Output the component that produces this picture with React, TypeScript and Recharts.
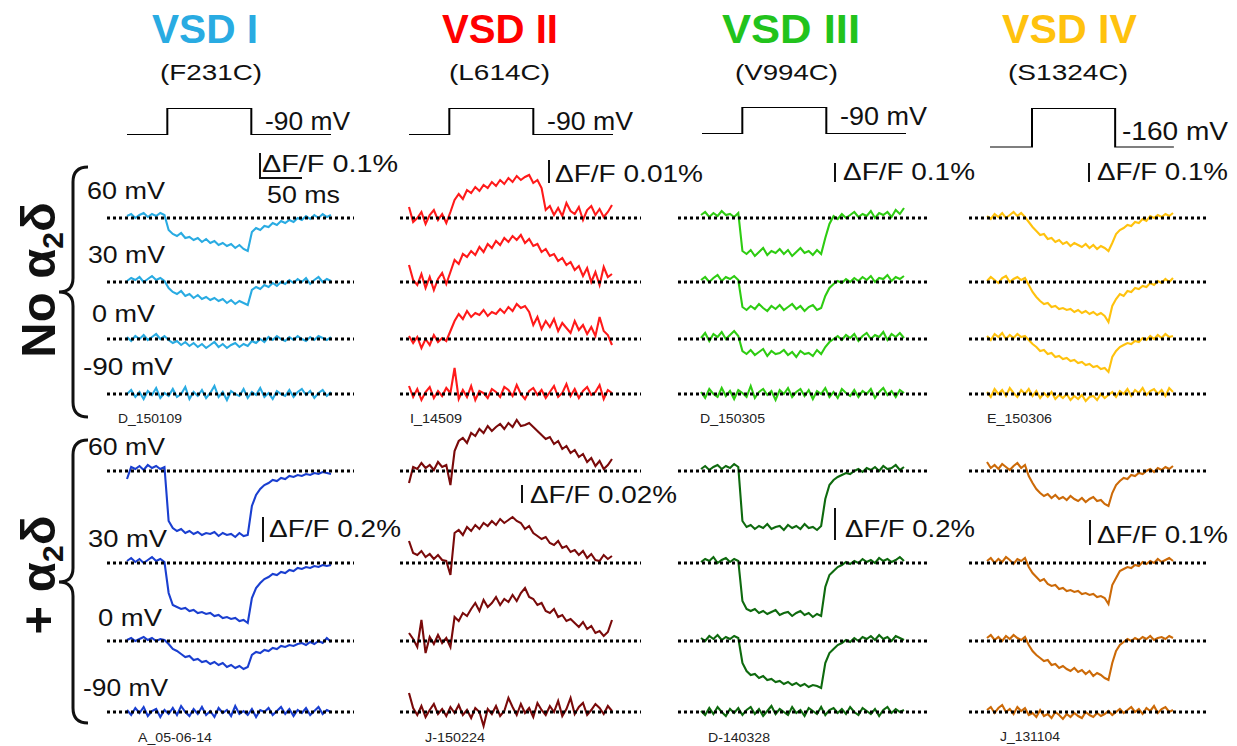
import React from 'react';
import { LineChart, Line, XAxis, YAxis, ReferenceLine } from 'recharts';

// ---- labels ----
const vsdNames = ['VSD I', 'VSD II', 'VSD III', 'VSD IV'];
const mutations = ['(F231C)', '(L614C)', '(V994C)', '(S1324C)'];
const testPotentials = ['60 mV', '30 mV', '0 mV', '-90 mV'];
const holdingLabels = ['-90 mV', '-90 mV', '-90 mV', '-160 mV'];
const scaleNoA2d = ['ΔF/F 0.1%', 'ΔF/F 0.01%', 'ΔF/F 0.1%', 'ΔF/F 0.1%'];
const scaleA2d = ['ΔF/F 0.2%', 'ΔF/F 0.02%', 'ΔF/F 0.2%', 'ΔF/F 0.1%'];
const cellsNoA2d = ['D_150109', 'I_14509', 'D_150305', 'E_150306'];
const cellsA2d = ['A_05-06-14', 'J-150224', 'D-140328', 'J_131104'];

// ---- voltage protocol (ms, mV) ----
const holdingPotentials = [-90, -90, -90, -160];
const stepPotential = 60;
const protocolTimes = [
  [0, 48, 148, 243],
  [0, 48, 148, 243],
  [0, 48, 148, 243],
  [0, 50, 149, 219],
];

// ---- fluorescence traces, one row per test potential (60, 30, 0, -90 mV) ----
const vsd1Control = [
  [2, 4, 0, 3, 5, 1, 4, 2, 5, 3,
   -12, -16, -18, -15, -20, -19, -22, -20, -24, -21,
   -25, -23, -27, -25, -28, -26, -30, -27, -31, -33,
   -14, -10, -12, -8, -9, -5, -7, -3, -5, -2,
   -4, 0, -2, 2, -1, 3, 0, 4, 1, 3],
  [1, 4, 2, 5, 0, 3, 6, 2, 4, 1,
   -6, -10, -12, -9, -14, -12, -16, -13, -17, -15,
   -18, -16, -19, -17, -21, -18, -22, -19, -21, -23,
   -8, -5, -7, -3, -5, -1, -4, 0, -2, 2,
   -1, 3, 0, 4, -2, 2, 5, 0, 3, 1],
  [2, -2, 3, 0, 4, -1, 2, 5, 0, 3,
   -1, -4, -2, -6, -3, -7, -4, -8, -5, -9,
   -6, -3, -8, -5, -9, -6, -4, -8, -5, -7,
   -2, -4, 0, -3, 2, -1, 3, 0, -2, 2,
   -1, 3, 0, -2, 2, -1, 3, 1, -1, 2],
  [0, 4, -3, 2, -5, 3, -1, 6, -4, 1,
   -2, 5, -3, 0, 7, -5, 2, -2, 4, -4,
   1, 8, -3, 2, -6, 3, 0, -2, 5, -4,
   2, -1, 6, -3, 1, -5, 3, 0, -2, 4,
   -3, 2, 5, -1, 3, -4, 1, 4, -2, 2],
];
const vsd1A2d = [
  [-8, 4, 2, 5, 1, 6, 3, 5, 2, 4,
   -50, -57, -60, -58, -62, -60, -63, -61, -64, -62,
   -63, -61, -65, -62, -64, -63, -66, -62, -65, -64,
   -35, -24, -18, -14, -12, -9, -10, -7, -8, -5,
   -6, -4, -5, -3, -4, -2, -3, -1, -2, -3],
  [2, 5, 1, 4, 0, 3, 6, 2, 4, 1,
   -30, -42, -44, -46, -45, -48, -47, -50, -49, -51,
   -50, -53, -52, -55, -54, -56, -55, -58, -57, -60,
   -35, -25, -20, -16, -14, -11, -12, -9, -10, -7,
   -8, -5, -6, -4, -5, -3, -4, -2, -3, -2],
  [1, 3, 0, 2, 4, 1, 3, 0, 2, 1,
   -3, -8, -10, -13, -16, -15, -19, -18, -21, -20,
   -23, -21, -24, -22, -26, -24, -27, -25, -28, -26,
   -14, -11, -12, -9, -10, -7, -8, -5, -6, -4,
   -5, -3, -2, -4, -1, -3, 0, -2, 3, -1],
  [2, -3, 4, -1, 5, -4, 1, 3, -5, 2,
   -2, 4, -3, 6, 0, -4, 3, -2, 5, -3,
   1, -5, 4, -1, 2, -4, 6, -2, 1, -3,
   3, -5, 2, 0, 4, -3, 1, 5, -2, 3,
   -4, 2, -1, 4, -3, 1, 5, -2, 2, 0],
];
const vsd2Control = [
  [11, -4, 0, 6, -6, 3, 8, -2, 4, -5,
   6, 18, 24, 19, 28, 25, 31, 27, 33, 30,
   36, 32, 38, 34, 40, 36, 42, 38, 41, 43,
   35, 38, 30, 8, 12, 3, 10, 2, 15, 7,
   4, 11, -2, 8, 12, 3, 9, 1, 6, 13],
  [17, 2, -3, 8, -6, 5, -8, 3, 9, -2,
   10, 22, 18, 28, 25, 31, 27, 35, 30, 38,
   34, 41, 37, 44, 40, 46, 42, 47, 39, 43,
   36, 38, 30, 33, 26, 28, 21, 24, 17, 20,
   12, 16, 6, 14, 0, 10, -3, 15, 5, 8],
  [3, -4, 2, -9, 0, -6, 4, -3, 1, -2,
   8, 18, 25, 20, 28, 22, 26, 24, 29, 23,
   27, 25, 30, 26, 32, 28, 35, 31, 33, 27,
   14, 22, 10, 18, 12, 20, 8, 16, 11, 6,
   18, 9, 14, 5, 12, 3, 22, 8, 4, -6],
  [8, -3, 5, -6, 2, 7, -4, 3, -2, 6,
   1, 26, -5, 4, -3, 8, -6, 3, 1, -4,
   5, 2, -3, 7, 4, -2, 9, 0, -5, 3,
   6, -1, 4, -4, 2, 8, -3, 1, 10, -2,
   5, -4, 3, 7, -1, 2, 9, -5, 4, 1],
];
const vsd2A2d = [
  [-12, 4, 2, 8, 3, 6, 1, 9, 4, 6,
   -14, 20, 30, 33, 28, 38, 35, 42, 38, 45,
   40, 44, 47, 42, 48, 44, 51, 45, 46, 48,
   44, 40, 36, 32, 34, 27, 30, 22, 25, 18,
   21, 14, 17, 9, 13, 5, 10, 2, 6, 12],
  [22, 10, 8, 12, 6, 9, 4, 8, 3, 2,
   -12, 30, 33, 28, 36, 32, 38, 34, 40, 37,
   42, 38, 44, 40, 43, 46, 42, 40, 34, 37,
   30, 27, 24, 26, 20, 18, 22, 15, 17, 11,
   13, 8, 12, 5, 9, 3, 2, 8, 4, 7],
  [8, 2, -6, 21, -12, 4, -3, 6, -2, 3,
   -6, 24, 20, 28, 25, 32, 38, 30, 41, 34,
   38, 44, 36, 42, 39, 46, 40, 48, 53, 44,
   42, 36, 38, 30, 28, 32, 24, 26, 20, 22,
   18, 14, 19, 12, 15, 8, 10, 5, 9, 21],
  [19, 4, -3, 6, -5, 2, 8, -2, 3, -4,
   5, -1, 7, -3, 2, -6, 4, 0, -14, 3,
   -2, 6, -4, 1, 14, 5, -3, 8, -1, 4,
   -5, 9, 2, -3, 6, 0, 11, -4, 3, 14,
   -2, 5, 9, -3, 2, 8, 4, -2, 6, 1],
];
const vsd3Control = [
  [3, 6, 1, 5, 2, 7, 3, 4, 1, 5,
   -33, -36, -32, -38, -34, -30, -37, -33, -35, -31,
   -36, -32, -38, -34, -30, -35, -33, -37, -32, -36,
   -20, -6, 2, -1, 4, 0, 3, 6, 1, 4,
   2, 7, 0, 5, 3, 6, 1, 8, 4, 10],
  [2, 5, 0, 4, 7, 1, 5, 3, 6, 2,
   -25, -28, -24, -27, -22, -26, -29, -24, -27, -23,
   -28, -25, -22, -27, -24, -29, -25, -23, -28, -26,
   -14, -6, -2, 1, -1, 3, 0, 4, 1, 5,
   2, 6, 0, 4, 3, 7, 1, 5, 3, 6],
  [1, 6, -2, 5, 2, 7, 0, 4, 8, 3,
   -12, -15, -11, -16, -13, -10, -17, -12, -15, -14,
   -11, -16, -13, -18, -12, -15, -14, -17, -11, -15,
   -8, -3, 0, 3, -1, 4, 1, 5, -2, 3,
   6, 0, 4, 2, 7, -1, 5, 2, 6, 1],
  [2, -4, 5, 0, -3, 6, -2, 3, -5, 4,
   1, -3, 8, -4, 2, 5, -1, 3, -6, 4,
   0, 6, -3, 2, 5, -2, 4, -5, 3, 0,
   6, -3, 2, -4, 5, 1, -2, 4, -3, 3,
   0, 5, -4, 2, 6, -1, 3, -3, 4, 1],
];
const vsd3A2d = [
  [2, 5, 1, 4, 6, 2, 5, 3, 7, 4,
   -50, -56, -54, -58, -55, -57, -53, -58, -56, -55,
   -59, -54, -57, -55, -58, -53, -57, -56, -59, -55,
   -28, -14, -9, -6, -4, -2, -3, 0, 2, -1,
   3, 1, 4, 0, 5, 2, 3, 6, 1, 4],
  [1, 4, 2, 6, 0, 3, 5, 1, 4, 2,
   -38, -46, -48, -46, -50, -48, -51, -49, -47, -52,
   -50, -49, -53, -50, -48, -52, -50, -54, -51, -53,
   -24, -12, -8, -4, -2, 1, -1, 2, 0, 4,
   1, 3, 0, 5, 2, 4, 1, 3, 6, 2],
  [3, 0, 5, 2, 6, 1, 4, 2, 5, 3,
   -22, -30, -34, -33, -37, -35, -39, -38, -41, -40,
   -43, -41, -44, -42, -45, -43, -46, -44, -45, -47,
   -22, -12, -8, -4, -2, 1, -1, 3, 0, 4,
   2, 5, 1, 6, 2, 4, 0, 5, 3, 1],
  [1, -3, 4, -2, 5, 0, -4, 3, -1, 4,
   -3, 2, 5, -2, 3, -4, 1, 6, -2, 3,
   0, -3, 5, -1, 2, -4, 4, 1, -2, 5,
   -3, 2, 4, -1, 3, -2, 5, 0, -3, 4,
   1, -2, 3, -4, 2, 5, -1, 3, 0, 2],
];
const vsd4Control = [
  [2, -1, 4, 1, 5, 0, 3, 6, 2, 5,
   1, -4, -9, -13, -17, -16, -21, -20, -24, -22,
   -26, -24, -28, -25, -27, -29, -26, -30, -27, -31,
   -28, -30, -33, -25, -16, -12, -10, -7, -8, -4,
   -5, -1, -3, 2, 0, 3, 1, 4, 2, 5],
  [1, 5, 2, -1, 4, 6, 0, 3, 5, 2,
   4, -3, -10, -15, -19, -22, -21, -25, -24, -27,
   -26, -28, -27, -30, -28, -31, -29, -32, -30, -33,
   -31, -34, -40, -24, -17, -12, -14, -9, -10, -6,
   -7, -4, -5, -1, -3, 1, -1, 3, 0, 4],
  [3, -1, 5, 2, 6, 0, 4, 1, 5, 2,
   3, -1, -5, -8, -12, -11, -15, -14, -18, -17,
   -20, -19, -22, -21, -24, -23, -26, -25, -28, -27,
   -30, -29, -33, -18, -12, -8, -6, -4, -5, -2,
   -3, 1, -1, 3, 0, 4, 1, 5, 2, 3],
  [2, -3, 5, 0, 4, -2, 6, 1, -3, 4,
   0, 5, -2, 3, -4, 1, -3, 2, -5, -1,
   -4, 0, -6, -2, -5, -1, -7, -3, -2, -6,
   0, -4, -1, 2, -3, 3, 0, 5, -2, 4,
   1, 6, -1, 3, 5, 0, 4, -2, 6, 2],
];
const vsd4A2d = [
  [9, 3, 6, 2, 7, 4, 1, 5, 8, 3,
   6, -5, -12, -18, -22, -25, -23, -27, -24, -28,
   -26, -29, -25, -28, -30, -27, -31, -28, -26, -30,
   -29, -33, -35, -22, -14, -10, -7, -8, -4, -5,
   -2, -3, 0, 2, -1, 3, 1, 4, 2, 5],
  [2, 5, 0, 4, 1, 6, 3, -1, 4, 2,
   5, -4, -10, -14, -18, -16, -21, -23, -22, -26,
   -25, -28, -27, -29, -28, -31, -30, -32, -31, -34,
   -33, -35, -41, -22, -15, -8, -6, -4, -5, -2,
   -3, 1, -1, 2, 0, 4, 1, 3, 5, 2],
  [3, 6, 1, 4, 0, 5, 2, 6, 3, 1,
   4, -4, -10, -14, -17, -20, -19, -24, -23, -27,
   -25, -28, -30, -27, -31, -29, -33, -30, -35, -32,
   -34, -37, -39, -22, -10, -4, -1, 2, 0, 3,
   1, 4, 2, 5, 1, 3, 4, 2, 5, 3],
  [2, 5, -1, 4, 7, 0, 3, -2, 5, 1,
   4, -3, -1, -5, 2, -4, -2, -6, 0, -3,
   -7, -2, -5, -1, -4, -6, 0, -3, -5, -1,
   -4, -2, 1, -3, 0, 3, -1, 2, 5, 0,
   3, -2, 4, 1, 6, -1, 3, 5, 0, 2],
];

const controlTraces = [vsd1Control, vsd2Control, vsd3Control, vsd4Control];
const a2dTraces = [vsd1A2d, vsd2A2d, vsd3A2d, vsd4A2d];

// ---- styling / layout ----
const FONT = '"Liberation Sans", Arial, Helvetica, sans-serif';
const titleColors = ['#29ABE2', '#FF0000', '#22C31C', '#FFC20E'];
const controlColors = ['#29ABE2', '#FF1A1A', '#2ECC12', '#FFC20E'];
const a2dColors = ['#1A3FD0', '#7A0A0A', '#0E6A0E', '#CC6A08'];

const COLS = [
  { dotL: 107, dotR: 354, trL: 127, trR: 331 },
  { dotL: 400, dotR: 641, trL: 409, trR: 612 },
  { dotL: 678, dotR: 927, trL: 701, trR: 904 },
  { dotL: 969, dotR: 1206, trL: 987, trR: 1173 },
];
const BASES = [
  [218, 282, 339, 394],
  [471, 563, 641, 712],
];
const UP = 60;
const DOWN = 75;

const titlePos = [[152, 106], [442, 116], [722, 138], [1002, 135]];
const subPos = [[160, 102], [449, 101], [735, 103], [1008, 120]];
const protoLeft = [127, 409, 702, 990];
const protoTop = [108, 108, 107, 108];
const PX_PER_MS = 0.84;
const PX_PER_MV = 0.18;
const holdLabelPos = [[265, 130, 85], [547, 130, 86], [840, 125, 87], [1122, 140, 106]];
const scaleTop = [
  { bx: 260, y1: 153, y2: 178, tx: 262, ty: 172, len: 136 },
  { bx: 549, y1: 160, y2: 183, tx: 555, ty: 182, len: 148 },
  { bx: 835, y1: 163, y2: 182, tx: 843, ty: 180, len: 132 },
  { bx: 1089, y1: 163, y2: 182, tx: 1097, ty: 180, len: 131 },
];
const scaleBottom = [
  { bx: 263, y1: 517, y2: 542, tx: 269, ty: 537, len: 132 },
  { bx: 522, y1: 485, y2: 503, tx: 530, ty: 503, len: 147 },
  { bx: 835, y1: 508, y2: 540, tx: 845, ty: 537, len: 130 },
  { bx: 1090, y1: 520, y2: 545, tx: 1097, ty: 543, len: 131 },
];
const vLabelTop = [[87, 199, 78], [88, 263, 77], [92, 322, 63], [83, 375, 90]];
const vLabelBottom = [[88, 455, 77], [88, 547, 79], [98, 626, 64], [83, 696, 85]];
const idTop = [[118, 423, 64], [410, 423, 52], [700, 423, 65], [987, 423, 65]];
const idBottom = [[138, 742, 74], [425, 742, 60], [708, 742, 62], [1000, 741, 60]];

function Trace({ values, color, col, base }) {
  const n = values.length;
  const pxPer = (col.trR - col.trL) / (n - 1);
  const x0 = -(col.trL - col.dotL) / pxPer;
  const x1 = n - 1 + (col.dotR - col.trR) / pxPer;
  const data = values.map((v, i) => ({ i, v }));
  const w = col.dotR - col.dotL;
  return (
    <div style={{ position: 'absolute', left: col.dotL, top: base - UP, width: w, height: UP + DOWN }}>
      <LineChart width={w} height={UP + DOWN} data={data} margin={{ top: 0, right: 0, bottom: 0, left: 0 }}>
        <XAxis type="number" dataKey="i" domain={[x0, x1]} allowDataOverflow hide />
        <YAxis type="number" domain={[-DOWN, UP]} allowDataOverflow hide />
        <Line
          type="linear"
          dataKey="v"
          stroke={color}
          strokeWidth={2.1}
          strokeLinejoin="miter"
          dot={false}
          isAnimationActive={false}
        />
        <ReferenceLine y={0} stroke="#000" strokeWidth={3} strokeDasharray="3 3" />
      </LineChart>
    </div>
  );
}

function Protocol({ k }) {
  const hold = holdingPotentials[k];
  const times = protocolTimes[k];
  const levels = [hold, stepPotential, hold, hold];
  const data = times.map((t, j) => ({ t, mv: levels[j] }));
  const end = times[times.length - 1];
  const w = end * PX_PER_MS + 2;
  const h = (stepPotential - hold) * PX_PER_MV + 4;
  return (
    <div style={{ position: 'absolute', left: protoLeft[k] - 1, top: protoTop[k] - 2, width: w, height: h }}>
      <LineChart width={w} height={h} data={data} margin={{ top: 2, right: 1, bottom: 2, left: 1 }}>
        <XAxis type="number" dataKey="t" domain={[0, end]} allowDataOverflow hide />
        <YAxis type="number" domain={[hold, stepPotential]} allowDataOverflow hide />
        <Line
          type="stepAfter"
          dataKey="mv"
          stroke="#000"
          strokeWidth={2}
          dot={false}
          isAnimationActive={false}
        />
      </LineChart>
    </div>
  );
}

function Txt({ x, y, size, len, children, weight = 400, fill = '#111' }) {
  return (
    <text
      x={x}
      y={y}
      fontSize={size}
      fontWeight={weight}
      fill={fill}
      textLength={len}
      lengthAdjust="spacingAndGlyphs"
    >
      {children}
    </text>
  );
}

export default function App() {
  return (
    <div
      style={{
        position: 'absolute',
        left: 0,
        top: 0,
        width: 1237,
        height: 746,
        background: '#fff',
        fontFamily: FONT,
        overflow: 'hidden',
      }}
    >
      {COLS.map((col, k) =>
        controlTraces[k].map((vals, r) => (
          <Trace key={`c${k}-${r}`} values={vals} color={controlColors[k]} col={col} base={BASES[0][r]} />
        ))
      )}
      {COLS.map((col, k) =>
        a2dTraces[k].map((vals, r) => (
          <Trace key={`a${k}-${r}`} values={vals} color={a2dColors[k]} col={col} base={BASES[1][r]} />
        ))
      )}
      {COLS.map((_, k) => (
        <Protocol key={`p${k}`} k={k} />
      ))}

      <svg
        width={1237}
        height={746}
        style={{ position: 'absolute', left: 0, top: 0, pointerEvents: 'none', fontFamily: FONT }}
      >
        {vsdNames.map((name, k) => (
          <Txt key={name} x={titlePos[k][0]} y={43} size={41} len={titlePos[k][1]} weight={700} fill={titleColors[k]}>
            {name}
          </Txt>
        ))}
        {mutations.map((m, k) => (
          <Txt key={m} x={subPos[k][0]} y={80} size={22} len={subPos[k][1]}>
            {m}
          </Txt>
        ))}
        {holdingLabels.map((l, k) => (
          <Txt key={`h${k}`} x={holdLabelPos[k][0]} y={holdLabelPos[k][1]} size={25} len={holdLabelPos[k][2]}>
            {l}
          </Txt>
        ))}

        {scaleTop.map((s, k) => (
          <g key={`st${k}`}>
            <line x1={s.bx} y1={s.y1} x2={s.bx} y2={s.y2} stroke="#111" strokeWidth={2} />
            <Txt x={s.tx} y={s.ty} size={24} len={s.len}>
              {scaleNoA2d[k]}
            </Txt>
          </g>
        ))}
        <line x1={259} y1={178} x2={302} y2={178} stroke="#111" strokeWidth={2} />
        <Txt x={267} y={203} size={24} len={73}>
          50 ms
        </Txt>
        {scaleBottom.map((s, k) => (
          <g key={`sb${k}`}>
            <line x1={s.bx} y1={s.y1} x2={s.bx} y2={s.y2} stroke="#111" strokeWidth={2} />
            <Txt x={s.tx} y={s.ty} size={24} len={s.len}>
              {scaleA2d[k]}
            </Txt>
          </g>
        ))}

        {testPotentials.map((v, r) => (
          <Txt key={`vt${r}`} x={vLabelTop[r][0]} y={vLabelTop[r][1]} size={23} len={vLabelTop[r][2]}>
            {v}
          </Txt>
        ))}
        {testPotentials.map((v, r) => (
          <Txt key={`vb${r}`} x={vLabelBottom[r][0]} y={vLabelBottom[r][1]} size={23} len={vLabelBottom[r][2]}>
            {v}
          </Txt>
        ))}

        {cellsNoA2d.map((c, k) => (
          <Txt key={c} x={idTop[k][0]} y={idTop[k][1]} size={12} len={idTop[k][2]} fill="#222">
            {c}
          </Txt>
        ))}
        {cellsA2d.map((c, k) => (
          <Txt key={c} x={idBottom[k][0]} y={idBottom[k][1]} size={12} len={idBottom[k][2]} fill="#222">
            {c}
          </Txt>
        ))}

        <path
          d="M 88 167 Q 73 167 73 182 L 73 278 Q 73 292 59 292 Q 73 292 73 306 L 73 402 Q 73 417 88 417"
          fill="none"
          stroke="#111"
          strokeWidth={3}
        />
        <path
          d="M 88 440 Q 73 440 73 455 L 73 568 Q 73 582 59 582 Q 73 582 73 596 L 73 708 Q 73 723 88 723"
          fill="none"
          stroke="#111"
          strokeWidth={3}
        />

        <text
          transform="translate(55,280) rotate(-90)"
          textAnchor="middle"
          fontSize={49}
          fontWeight={700}
          fill="#111"
        >
          No α<tspan fontSize={30} dy={8}>2</tspan>
          <tspan dy={-8}>δ</tspan>
        </text>
        <text
          transform="translate(55,575) rotate(-90)"
          textAnchor="middle"
          fontSize={49}
          fontWeight={700}
          fill="#111"
        >
          + α<tspan fontSize={30} dy={8}>2</tspan>
          <tspan dy={-8}>δ</tspan>
        </text>
      </svg>
    </div>
  );
}
